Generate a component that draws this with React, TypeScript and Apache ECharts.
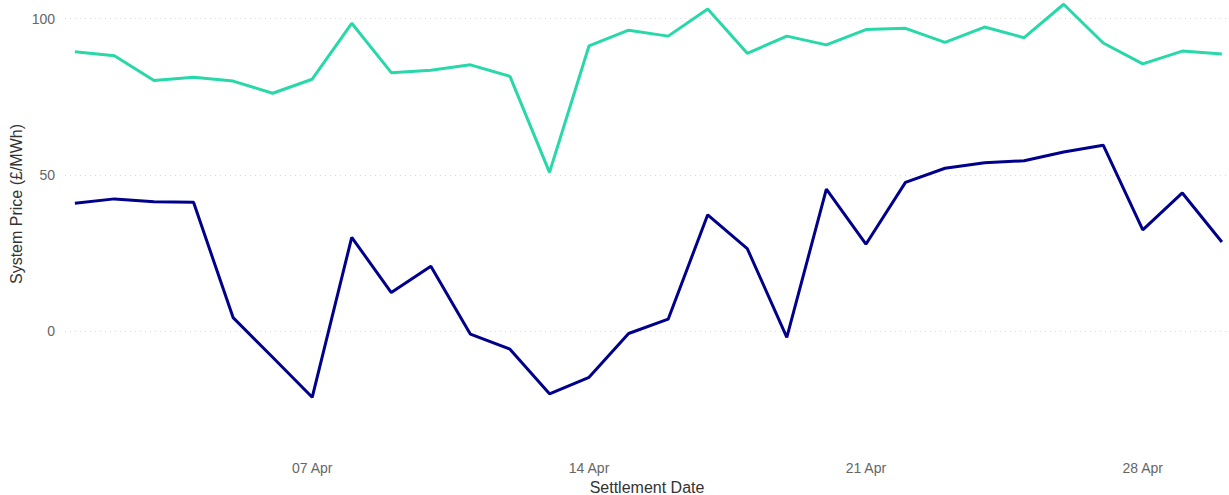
import React, { useEffect, useRef } from "react";
import * as echarts from "echarts";

const days = [1, 2, 3, 4, 5, 6, 7, 8, 9, 10, 11, 12, 13, 14, 15, 16, 17, 18, 19, 20, 21, 22, 23, 24, 25, 26, 27, 28, 29, 30];
const month = "Apr";
const upperPrice = [89.4, 88.1, 80.2, 81.2, 80.0, 76.1, 80.6, 98.5, 82.7, 83.5, 85.2, 81.5, 50.8, 91.3, 96.3, 94.4, 103.1, 88.9, 94.4, 91.6, 96.5, 96.9, 92.4, 97.3, 93.9, 104.6, 92.2, 85.5, 89.6, 88.7];
const lowerPrice = [40.9, 42.3, 41.4, 41.2, 4.3, -8.4, -21.2, 30.0, 12.3, 20.7, -1.0, -5.8, -20.1, -14.8, -0.8, 3.8, 37.2, 26.4, -2.0, 45.4, 27.8, 47.6, 52.1, 53.9, 54.5, 57.3, 59.5, 32.4, 44.2, 28.5];
const xTickDays = [7, 14, 21, 28];
const yTicks = [0, 50, 100];

export default function App() {
  const ref = useRef<HTMLDivElement>(null);
  useEffect(() => {
    if (!ref.current) return;
    const chart = echarts.init(ref.current, undefined, { renderer: "svg" });
    const fmtDay = (v: number) => `${String(v).padStart(2, "0")} ${month}`;
    const font = "Liberation Sans, Arial, sans-serif";
    chart.setOption({
      animation: false,
      backgroundColor: "#ffffff",
      grid: { left: 65, right: 0, top: 3, bottom: 39, outerBoundsMode: "none", containLabel: false },
      xAxis: {
        type: "value",
        min: 0.75,
        max: 30.18,
        axisLine: { show: false },
        axisTick: { show: false },
        splitLine: { show: false },
        axisLabel: {
          customValues: xTickDays,
          formatter: (v: number) => fmtDay(v),
          color: "#666666",
          fontSize: 14,
          fontFamily: font,
          margin: 5,
        },
        name: "Settlement Date",
        nameLocation: "middle",
        nameGap: 22,
        nameTextStyle: { color: "#333333", fontSize: 16, fontFamily: font },
      },
      yAxis: {
        type: "value",
        min: -40,
        max: 105,
        axisLine: { show: false },
        axisTick: { show: false, customValues: yTicks },
        axisLabel: {
          customValues: yTicks,
          color: "#666666",
          fontSize: 14,
          fontFamily: font,
          margin: 10,
        },
        splitLine: {
          show: true,
          lineStyle: { color: "#d9d9d9", type: [1, 4], width: 1 },
        },
      },
      graphic: [
        {
          type: "text",
          x: 16,
          y: 204,
          rotation: Math.PI / 2,
          style: {
            text: "System Price (£/MWh)",
            fill: "#333333",
            fontSize: 16,
            fontFamily: font,
            textAlign: "center",
            textVerticalAlign: "middle",
          },
        },
      ],
      series: [
        {
          type: "line",
          data: days.map((d, i) => [d, upperPrice[i]]),
          showSymbol: false,
          clip: false,
          lineStyle: { color: "#28d8a8", width: 3 },
          itemStyle: { color: "#28d8a8" },
        },
        {
          type: "line",
          data: days.map((d, i) => [d, lowerPrice[i]]),
          showSymbol: false,
          clip: false,
          lineStyle: { color: "#00008b", width: 3 },
          itemStyle: { color: "#00008b" },
        },
      ],
    });
    return () => chart.dispose();
  }, []);
  return <div ref={ref} style={{ width: 1229, height: 495, position: "absolute", left: 0, top: 0 }} />;
}
